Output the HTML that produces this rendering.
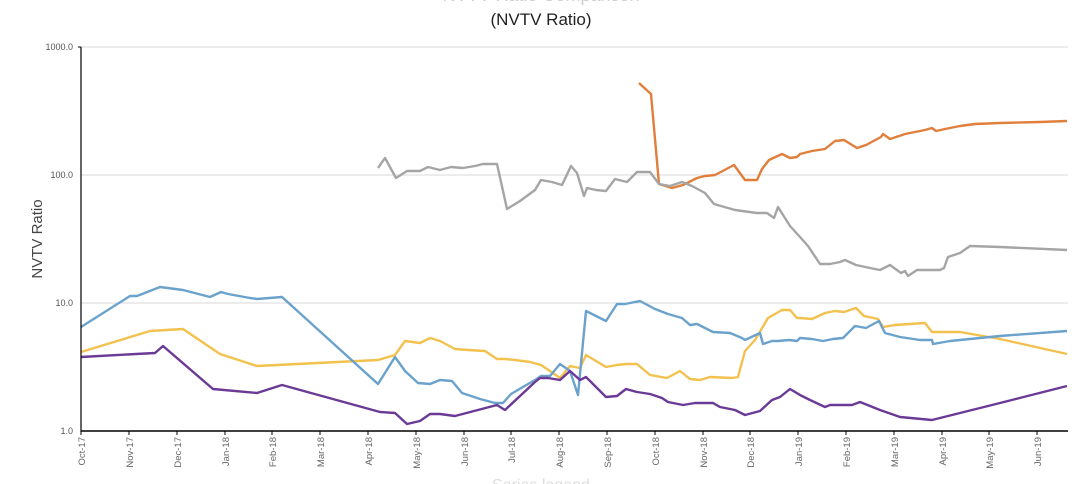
<!DOCTYPE html>
<html><head><meta charset="utf-8"><style>body{margin:0;background:#fff}svg{display:block}</style></head><body>
<svg width="1080" height="484" viewBox="0 0 1080 484" font-family="Liberation Sans, sans-serif">
<text x="541" y="1" text-anchor="middle" font-size="18" fill="#ccc">NVTV Ratio Comparison</text>
<text x="541" y="25" text-anchor="middle" font-size="17" fill="#222">(NVTV Ratio)</text>
<g stroke="#d9d9d9" stroke-width="1"><line x1="81" y1="47" x2="1068" y2="47"/><line x1="81" y1="175" x2="1068" y2="175"/><line x1="81" y1="303" x2="1068" y2="303"/></g>
<g font-size="9" fill="#555" text-anchor="end"><text x="73" y="50">1000.0</text><text x="73" y="178">100.0</text><text x="73" y="306">10.0</text><text x="73" y="434">1.0</text></g>
<text transform="translate(42,239) rotate(-90)" text-anchor="middle" font-size="15" fill="#444">NVTV Ratio</text>
<g fill="none" stroke-width="2.4" stroke-linejoin="round">
<polyline stroke="#e07f3c" points="639,83 651,94 659,184 672,188 683,185 697,178 705,176 715,175 734,165 745,180 757,180 762,169 769,160 782,154 790,158 797,157 800,154 812,151 825,149 835,141 844,140 857,148 866,145 881,137 883,134 890,139 905,134 925,130 932,128 936,131 945,129 960,126 975,124 1000,123 1040,122 1067,121"/>
<polyline stroke="#a5a5a5" points="378,168 385,158 396,178 407,171 420,171 428,167 440,170 451,167 463,168 475,166 483,164 497,164 507,209 520,201 535,190 541,180 552,182 562,185 571,166 577,173 584,196 587,188 596,190 606,191 615,179 627,182 637,172 650,172 659,184 670,186 682,182 692,186 705,193 714,204 735,210 757,213 767,213 774,218 778,207 790,226 800,237 808,246 820,264 830,264 840,262 845,260 856,265 870,268 880,270 890,265 901,273 905,271 908,276 917,270 930,270 940,270 944,268 948,257 960,253 970,246 1000,247 1067,250"/>
<polyline stroke="#f2c14e" points="81,352 150,331 183,329 220,354 257,366 378,360 395,355 405,341 420,343 430,338 440,341 455,349 468,350 485,351 497,359 505,359 515,360 530,362 541,365 550,371 560,378 570,366 580,368 586,355 606,367 617,365 626,364 637,364 650,375 667,378 680,371 690,379 700,380 710,377 732,378 738,377 745,351 755,340 768,318 782,310 790,310 797,318 800,318 812,319 825,313 835,311 844,312 856,308 864,316 878,319 883,327 895,325 925,323 932,332 960,332 1000,339 1067,354"/>
<polyline stroke="#6aa2cc" points="81,327 130,296 137,296 160,287 183,290 210,297 221,292 228,294 250,298 257,299 282,297 378,384 395,357 405,371 418,383 430,384 440,380 452,381 462,393 480,399 495,403 503,403 511,394 535,380 541,376 550,376 560,364 570,371 578,395 586,311 606,321 617,304 625,304 640,301 655,309 668,314 682,318 690,325 697,324 703,327 713,332 730,333 742,338 745,340 760,333 763,344 772,341 778,341 789,340 797,341 800,338 812,339 823,341 833,339 843,338 855,326 866,328 879,321 885,333 900,337 920,340 932,340 933,344 950,341 970,339 1000,336 1067,331"/>
<polyline stroke="#6b3a96" points="81,357 155,353 163,346 213,389 257,393 282,385 380,412 395,413 407,424 420,421 430,414 440,414 455,416 497,405 505,410 520,396 535,382 540,378 548,378 560,380 570,371 580,380 586,377 606,397 617,396 626,389 637,392 650,394 662,398 668,402 683,405 695,403 705,403 713,403 720,407 735,410 745,415 760,411 772,400 780,397 790,389 800,395 810,400 825,407 830,405 845,405 852,405 860,402 870,406 880,410 900,417 932,420 1000,403 1067,386"/>
</g>
<line x1="81" y1="47" x2="81" y2="432" stroke="#000" stroke-width="1.2"/>
<line x1="78" y1="47" x2="81" y2="47" stroke="#000"/>
<line x1="81" y1="431" x2="1068" y2="431" stroke="#000" stroke-width="1.5"/>
<g font-size="9.5" fill="#666" text-anchor="end">
<text transform="translate(85,437) rotate(-90)">Oct-17</text>
<text transform="translate(133,437) rotate(-90)">Nov-17</text>
<text transform="translate(181,437) rotate(-90)">Dec-17</text>
<text transform="translate(229,437) rotate(-90)">Jan-18</text>
<text transform="translate(276,437) rotate(-90)">Feb-18</text>
<text transform="translate(324,437) rotate(-90)">Mar-18</text>
<text transform="translate(372,437) rotate(-90)">Apr-18</text>
<text transform="translate(420,437) rotate(-90)">May-18</text>
<text transform="translate(468,437) rotate(-90)">Jun-18</text>
<text transform="translate(515,437) rotate(-90)">Jul-18</text>
<text transform="translate(563,437) rotate(-90)">Aug-18</text>
<text transform="translate(611,437) rotate(-90)">Sep-18</text>
<text transform="translate(659,437) rotate(-90)">Oct-18</text>
<text transform="translate(707,437) rotate(-90)">Nov-18</text>
<text transform="translate(754,437) rotate(-90)">Dec-18</text>
<text transform="translate(802,437) rotate(-90)">Jan-19</text>
<text transform="translate(850,437) rotate(-90)">Feb-19</text>
<text transform="translate(898,437) rotate(-90)">Mar-19</text>
<text transform="translate(946,437) rotate(-90)">Apr-19</text>
<text transform="translate(993,437) rotate(-90)">May-19</text>
<text transform="translate(1041,437) rotate(-90)">Jun-19</text>
</g>
<g stroke="#000">
<line x1="81" y1="431" x2="81" y2="435"/><line x1="129" y1="431" x2="129" y2="435"/><line x1="177" y1="431" x2="177" y2="435"/><line x1="225" y1="431" x2="225" y2="435"/><line x1="272" y1="431" x2="272" y2="435"/><line x1="320" y1="431" x2="320" y2="435"/><line x1="368" y1="431" x2="368" y2="435"/><line x1="416" y1="431" x2="416" y2="435"/><line x1="464" y1="431" x2="464" y2="435"/><line x1="511" y1="431" x2="511" y2="435"/><line x1="559" y1="431" x2="559" y2="435"/><line x1="607" y1="431" x2="607" y2="435"/><line x1="655" y1="431" x2="655" y2="435"/><line x1="703" y1="431" x2="703" y2="435"/><line x1="750" y1="431" x2="750" y2="435"/><line x1="798" y1="431" x2="798" y2="435"/><line x1="846" y1="431" x2="846" y2="435"/><line x1="894" y1="431" x2="894" y2="435"/><line x1="942" y1="431" x2="942" y2="435"/><line x1="989" y1="431" x2="989" y2="435"/><line x1="1037" y1="431" x2="1037" y2="435"/>
</g>
<text x="541" y="490" text-anchor="middle" font-size="16" fill="#ddd">Series legend</text>
</svg>
</body></html>
